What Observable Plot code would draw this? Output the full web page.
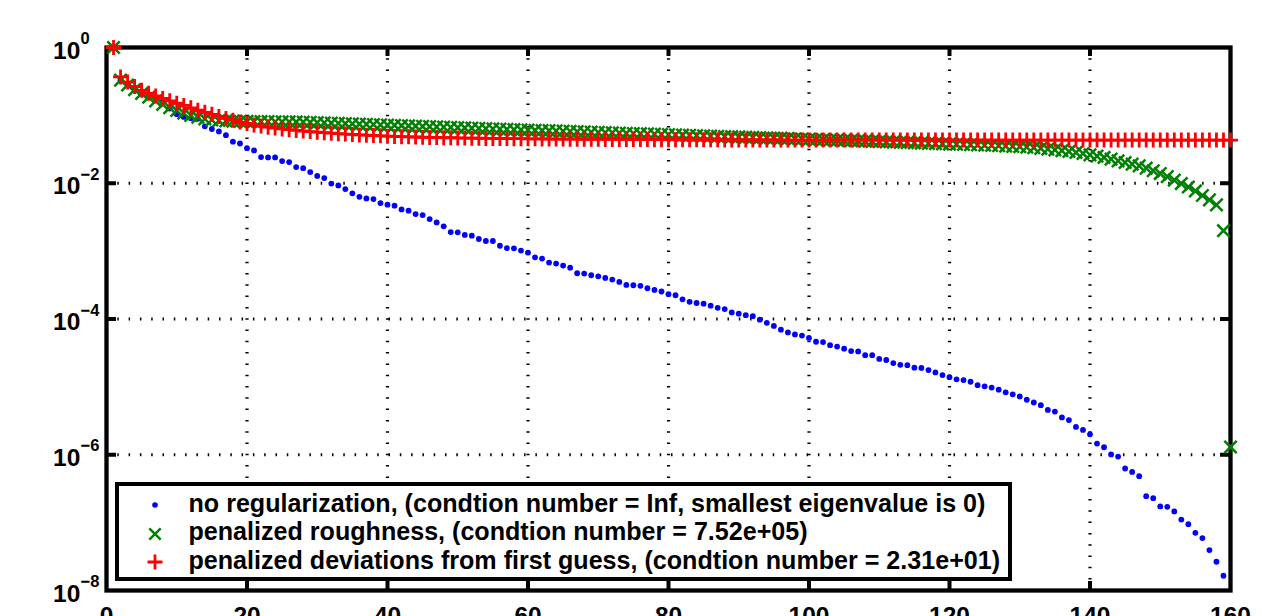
<!DOCTYPE html>
<html><head><meta charset="utf-8">
<script src="https://cdn.jsdelivr.net/npm/d3@7"></script>
<script src="https://cdn.jsdelivr.net/npm/@observablehq/plot@0.6"></script>
<style>
html,body{margin:0;padding:0;background:#fff;}
#wrap{position:relative;width:1262px;height:616px;overflow:hidden;font-family:"Liberation Sans",Arial,sans-serif;}
#legend{position:absolute;left:115px;top:481.5px;width:897px;height:99.5px;box-sizing:border-box;border:4.5px solid #000;background:#fff;padding-top:3.4px;}
.row{position:relative;height:28.5px;line-height:28.5px;font-size:25.1px;font-weight:bold;color:#000;white-space:nowrap;padding-left:69.5px;}
.row svg{position:absolute;left:27.5px;top:8.6px;overflow:visible;}
</style></head><body><div id="wrap"></div>
<script>
// eigenvalue index 1..160
const eigIndex = Array.from({length: 160}, (_, i) => i + 1);

const noRegularization = [
 1, 0.33, 0.29, 0.255, 0.225, 0.2, 0.18, 0.16, 0.126, 0.104,
 0.095, 0.091, 0.089, 0.069, 0.063, 0.058, 0.051, 0.041, 0.0385, 0.0329,
 0.0304, 0.0243, 0.024, 0.024, 0.0212, 0.0205, 0.0173, 0.0167, 0.0146, 0.0128,
 0.0119, 0.0099, 0.0093, 0.0082, 0.0071, 0.0063, 0.00598, 0.00585, 0.0051, 0.00483,
 0.00467, 0.00412, 0.00394, 0.00352, 0.0034, 0.00297, 0.00265, 0.00232, 0.00191, 0.00189,
 0.00173, 0.00169, 0.00151, 0.00141, 0.00141, 0.0012, 0.00111, 0.0011, 0.00102, 0.00095,
 0.00081, 0.000776, 0.000678, 0.000655, 0.000612, 0.000571, 0.000472, 0.000467, 0.000441, 0.000426,
 0.000403, 0.000381, 0.000352, 0.000318, 0.000314, 0.000308, 0.000284, 0.000268, 0.000254, 0.000232,
 0.000224, 0.000195, 0.000179, 0.000172, 0.000168, 0.000157, 0.000146, 0.00014, 0.000125, 0.00012,
 0.000114, 0.00011, 9.77e-5, 8.79e-5, 7.91e-5, 6.97e-5, 6.34e-5, 5.92e-5, 5.70e-5, 5.26e-5,
 4.62e-5, 4.57e-5, 4.11e-5, 3.93e-5, 3.66e-5, 3.37e-5, 3.33e-5, 2.93e-5, 2.93e-5, 2.58e-5,
 2.49e-5, 2.24e-5, 2.11e-5, 2.09e-5, 1.92e-5, 1.90e-5, 1.77e-5, 1.63e-5, 1.49e-5, 1.39e-5,
 1.29e-5, 1.26e-5, 1.19e-5, 1.06e-5, 1.02e-5, 9.77e-6, 9.10e-6, 8.32e-6, 7.76e-6, 7.24e-6,
 6.46e-6, 5.89e-6, 5.37e-6, 4.57e-6, 4.32e-6, 3.55e-6, 3.24e-6, 2.57e-6, 2.32e-6, 2.0e-6,
 1.46e-6, 1.29e-6, 1.01e-6, 9.4e-7, 6.27e-7, 5.58e-7, 4.83e-7, 2.45e-7, 2.29e-7, 1.73e-7,
 1.71e-7, 1.46e-7, 1.11e-7, 9.5e-8, 7.08e-8, 5.92e-8, 3.94e-8, 2.65e-8, 1.65e-8, 0
];

const penalizedRoughness = [
 1, 0.33, 0.28, 0.24, 0.21, 0.185, 0.163, 0.145, 0.13, 0.118,
 0.108, 0.1, 0.094, 0.089, 0.086, 0.084, 0.083, 0.0822, 0.0818, 0.0815,
 0.0812, 0.081, 0.0808, 0.0806, 0.0804, 0.0802, 0.08, 0.0798, 0.0791, 0.0785,
 0.0778, 0.0771, 0.0765, 0.0758, 0.0752, 0.0745, 0.0739, 0.0733, 0.0726, 0.072,
 0.0714, 0.0708, 0.0702, 0.0696, 0.069, 0.0684, 0.0678, 0.0672, 0.0667, 0.0661,
 0.0655, 0.065, 0.0644, 0.0639, 0.0633, 0.0628, 0.0623, 0.0618, 0.0613, 0.0609,
 0.0604, 0.0599, 0.0595, 0.059, 0.0585, 0.0581, 0.0576, 0.0572, 0.0567, 0.0563,
 0.0558, 0.0554, 0.055, 0.0545, 0.0541, 0.0537, 0.0533, 0.0529, 0.0525, 0.0521,
 0.0517, 0.0513, 0.0509, 0.0505, 0.0501, 0.0497, 0.0493, 0.0489, 0.0485, 0.0481,
 0.0477, 0.0474, 0.047, 0.0467, 0.0464, 0.0461, 0.0457, 0.0453, 0.0449, 0.0445,
 0.0441, 0.0438, 0.0434, 0.0431, 0.0427, 0.0424, 0.042, 0.0417, 0.0413, 0.041,
 0.0406, 0.0403, 0.04, 0.0397, 0.0393, 0.039, 0.0387, 0.0384, 0.0381, 0.0378,
 0.0375, 0.0372, 0.0369, 0.0366, 0.0363, 0.036, 0.0357, 0.0353, 0.0349, 0.0345,
 0.0341, 0.0334, 0.0326, 0.0318, 0.031, 0.0302, 0.0294, 0.0284, 0.0274, 0.0262,
 0.0251, 0.024, 0.0227, 0.0214, 0.0202, 0.0191, 0.018, 0.0167, 0.0153, 0.0139,
 0.0125, 0.0111, 0.0099, 0.0088, 0.0077, 0.0066, 0.0057, 0.0048, 0.002, 1.3e-6
];

const penalizedDeviations = [
 1, 0.368, 0.309, 0.266, 0.234, 0.211, 0.193, 0.178, 0.164, 0.151,
 0.14, 0.129, 0.119, 0.111, 0.1035, 0.0966, 0.0902, 0.0847, 0.0798, 0.0759,
 0.0724, 0.0695, 0.067, 0.0649, 0.0631, 0.0615, 0.0601, 0.0589, 0.0577, 0.0566,
 0.0556, 0.0547, 0.0538, 0.0531, 0.0524, 0.0516, 0.0511, 0.0505, 0.0499, 0.0494,
 0.049, 0.0486, 0.0483, 0.048, 0.0476, 0.0474, 0.0472, 0.047, 0.0468, 0.0466,
 0.0463, 0.0461, 0.046, 0.0458, 0.0457, 0.0456, 0.0455, 0.0454, 0.0453, 0.0452,
 0.0451, 0.045, 0.0449, 0.0448, 0.0447, 0.0446, 0.0446, 0.0445, 0.0444, 0.0444,
 0.0443, 0.0442, 0.0442, 0.0441, 0.0441, 0.044, 0.044, 0.0439, 0.0439, 0.0438,
 0.0438, 0.0437, 0.0437, 0.0437, 0.0436, 0.0436, 0.0436, 0.0435, 0.0435, 0.0435,
 0.0435, 0.0434, 0.0434, 0.0434, 0.0434, 0.0434, 0.0433, 0.0433, 0.0433, 0.0433,
 0.0433, 0.0433, 0.0433, 0.0433, 0.0433, 0.0433, 0.0433, 0.0433, 0.0433, 0.0433,
 0.0433, 0.0433, 0.0433, 0.0433, 0.0433, 0.0433, 0.0433, 0.0433, 0.0433, 0.0433,
 0.0432, 0.0432, 0.0432, 0.0432, 0.0432, 0.0432, 0.0432, 0.0432, 0.0432, 0.0432,
 0.0432, 0.0432, 0.0432, 0.0432, 0.0432, 0.0432, 0.0432, 0.0432, 0.0432, 0.0432,
 0.0432, 0.0432, 0.0432, 0.0432, 0.0432, 0.0432, 0.0432, 0.0432, 0.0432, 0.0432,
 0.0432, 0.0432, 0.0432, 0.0432, 0.0432, 0.0432, 0.0432, 0.0432, 0.0432, 0.0432
];

const xTicks = [0, 20, 40, 60, 80, 100, 120, 140, 160];
const xGrid = [20, 40, 60, 80, 100, 120, 140];
const yTicks = [1, 1e-2, 1e-4, 1e-6, 1e-8];
const yTickExponents = ["0", "\u22122", "\u22124", "\u22126", "\u22128"];
const yGrid = [1e-2, 1e-4, 1e-6];

const legendLabels = [
  "no regularization, (condtion number = Inf, smallest eigenvalue is 0)",
  "penalized roughness, (condtion number = 7.52e+05)",
  "penalized deviations from first guess, (condtion number = 2.31e+01)"
];
const seriesColors = ["#0000ff", "#008000", "#ff0000"];

const toRows = (vals) => eigIndex.map((k, i) => ({k, v: vals[i]})).filter(d => d.v > 0);

const plusSymbol = {draw(ctx, size) { const r = Math.sqrt(size / Math.PI); ctx.moveTo(-r, 0); ctx.lineTo(r, 0); ctx.moveTo(0, -r); ctx.lineTo(0, r); }};
const timesSymbol = {draw(ctx, size) { const r = Math.sqrt(size / Math.PI); ctx.moveTo(-r, -r); ctx.lineTo(r, r); ctx.moveTo(r, -r); ctx.lineTo(-r, r); }};

const W = 1262, H = 616, mL = 106, mR = 32, mT = 47, mB = 26;
const plotW = W - mL - mR, plotH = H - mT - mB;
const gridStyle = {stroke: "black", strokeWidth: 3.2, strokeDasharray: "1.5,9.8"};
const tickStyle = {stroke: "black", strokeWidth: 4};

const chart = Plot.plot({
  width: W, height: H,
  marginLeft: mL, marginRight: mR, marginTop: mT, marginBottom: mB,
  x: {domain: [0, 160], axis: null, label: null},
  y: {type: "log", domain: [1e-8, 1], axis: null, label: null},
  style: {fontFamily: "'Liberation Sans', Arial, sans-serif", background: "white", overflow: "visible", color: "black"},
  marks: [
    Plot.ruleX(xGrid, {x: d => d, ...gridStyle}),
    Plot.ruleY(yGrid, {y: d => d, ...gridStyle}),
    Plot.frame({stroke: "black", strokeWidth: 4.3}),
    Plot.tickX(xGrid, {x: d => d, insetTop: plotH - 9, ...tickStyle}),
    Plot.tickX(xGrid, {x: d => d, insetBottom: plotH - 9, ...tickStyle}),
    Plot.tickY(yGrid, {y: d => d, insetRight: plotW - 10, ...tickStyle}),
    Plot.tickY(yGrid, {y: d => d, insetLeft: plotW - 10, ...tickStyle}),
    Plot.axisX(xTicks, {anchor: "bottom", label: null, tickSize: 0, tickPadding: 16, fontSize: 24.5, fontWeight: "bold", tickFormat: d => String(d)}),
    Plot.text(yTicks, {y: d => d, frameAnchor: "left", text: () => "10", dx: -53.5, dy: 3.2, textAnchor: "start", fontSize: 24.5, fontWeight: "bold", fill: "black"}),
    Plot.text(yTicks, {y: d => d, frameAnchor: "left", text: (d, i) => yTickExponents[i], dx: -26, dy: -8.6, textAnchor: "start", fontSize: 16.5, fontWeight: "bold", fill: "black"}),
    Plot.dot(toRows(noRegularization), {x: "k", y: "v", r: 2.9, fill: seriesColors[0], stroke: null}),
    Plot.dot(toRows(penalizedRoughness), {x: "k", y: "v", r: 6.2, symbol: timesSymbol, fill: "none", stroke: seriesColors[1], strokeWidth: 2.5}),
    Plot.dot(toRows(penalizedDeviations), {x: "k", y: "v", r: 7.5, symbol: plusSymbol, fill: "none", stroke: seriesColors[2], strokeWidth: 2.8})
  ]
});

const wrap = document.getElementById("wrap");
wrap.appendChild(chart);

const markerSvgs = [
  '<svg width="16" height="16"><circle cx="8" cy="8" r="2.8" fill="#0000ff"/></svg>',
  '<svg width="16" height="16"><path d="M2.3,2.3L13.7,13.7M13.7,2.3L2.3,13.7" stroke="#008000" stroke-width="2.5" fill="none"/></svg>',
  '<svg width="16" height="16"><path d="M0.5,8H15.5M8,0.5V15.5" stroke="#ff0000" stroke-width="2.8" fill="none"/></svg>'
];
const legend = document.createElement("div");
legend.id = "legend";
legendLabels.forEach((label, i) => {
  const row = document.createElement("div");
  row.className = "row";
  row.innerHTML = markerSvgs[i];
  row.appendChild(document.createTextNode(label));
  legend.appendChild(row);
});
wrap.appendChild(legend);
</script></body></html>
